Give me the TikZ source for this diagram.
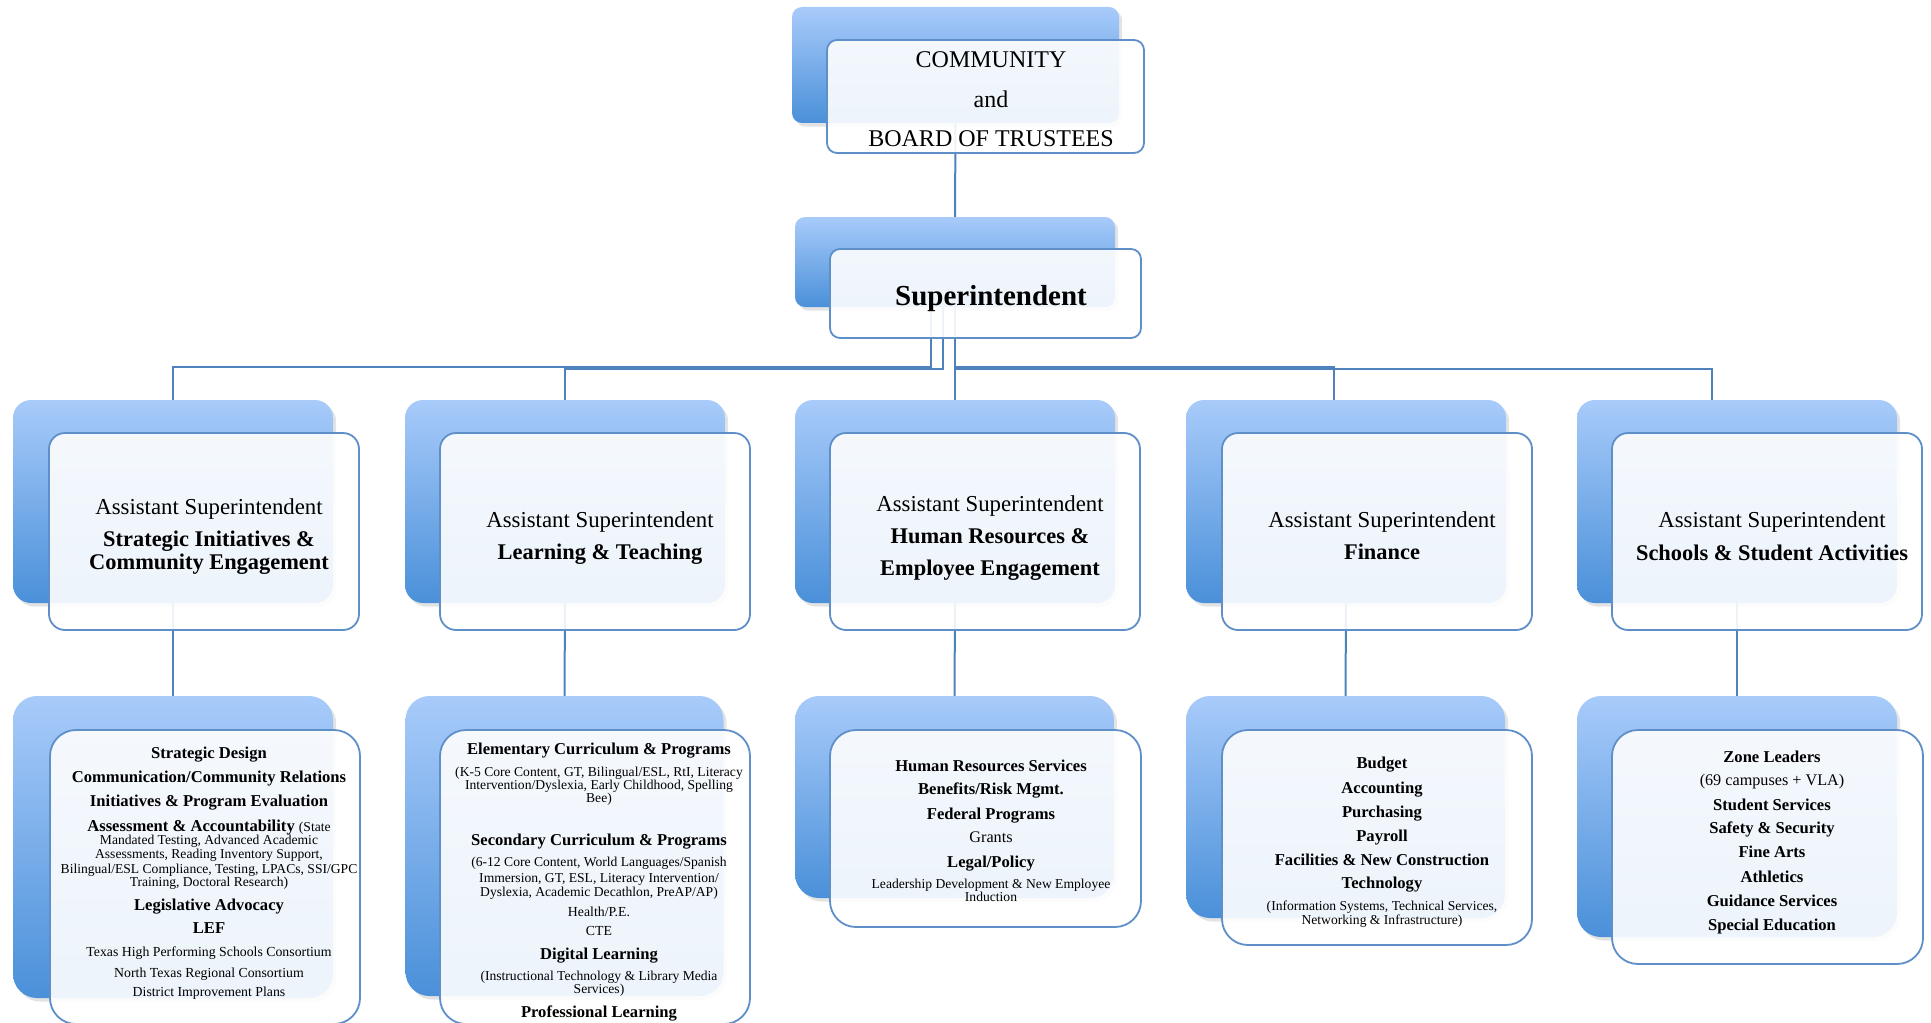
\documentclass[tikz,border=0pt]{standalone}
\usepackage{fontspec}
\setmainfont{Liberation Serif}
\usetikzlibrary{shadows,calc}
\definecolor{bTop}{RGB}{168,203,250}
\definecolor{bBot}{RGB}{74,144,217}
\definecolor{frC}{RGB}{94,143,200}
\definecolor{lnC}{RGB}{79,129,189}
\pgfdeclarelayer{bg}
\pgfsetlayers{bg,main}
\begin{document}
\begin{tikzpicture}[x=0.5pt,y=-0.5pt,
  backbox/.style={rectangle, rounded corners=#1, top color=bTop, bottom color=bBot,
    draw=none, inner sep=0pt, outer sep=0pt,
    drop shadow={shadow xshift=1.6pt, shadow yshift=-1.8pt, opacity=0.22}},
  backbox/.default=8pt,
  frontbox/.style={rectangle, rounded corners=#1, draw=frC, line width=0.9pt,
    fill=white, fill opacity=0.9, inner sep=0pt, outer sep=0pt},
  frontbox/.default=8pt,
  conn/.style={draw=lnC, line width=1pt},
  tx/.style={anchor=base, inner sep=0pt, outer sep=0pt, text=black},
  topT/.style={tx, font=\fontsize{12}{14}\selectfont, yshift=-3.6pt},
  supT/.style={tx, font=\fontsize{14.5}{17}\selectfont\bfseries, yshift=-4.3pt},
  asR/.style={tx, font=\fontsize{11.4}{13}\selectfont, yshift=-3.4pt},
  asB/.style={tx, font=\fontsize{11.2}{13}\selectfont\bfseries, yshift=-3.4pt},
  hB/.style={tx, font=\fontsize{8.3}{10}\selectfont\bfseries, yshift=-2.5pt},
  hR/.style={tx, font=\fontsize{8.1}{10}\selectfont, yshift=-2.4pt},
  sR/.style={tx, font=\fontsize{6.8}{8}\selectfont, yshift=-2pt},
  mR/.style={tx, font=\fontsize{6.9}{8}\selectfont, yshift=-2.1pt}
]
\useasboundingbox (0,0) rectangle (1931,1022);

% ---------- top ----------
\node[backbox=5pt, minimum width=163.5pt, minimum height=58pt] (topb) at (955.5,65) {};
\node[frontbox=5pt, minimum width=158.5pt, minimum height=56.5pt] (topf) at (985.5,96.5) {};
\node[topT] (t0a) at (991,60) {COMMUNITY};
\node[topT] (t0b) at (991,100) {and};
\node[topT] (t0c) at (991,139) {BOARD OF TRUSTEES};

% ---------- superintendent ----------
\node[backbox=5pt, minimum width=160pt, minimum height=45pt] (supb) at (955,262) {};
\node[frontbox=5pt, minimum width=155.5pt, minimum height=44.5pt] (supf) at (985.5,293.5) {};
\node[supT] (t00) at (991,297) {Superintendent};

% ---------- level 2 ----------
\foreach \n/\cx/\fx in {1/173/204, 2/565/595, 3/955/985, 4/1346/1377, 5/1737/1767}{
  \node[backbox=9pt, minimum width=160pt, minimum height=101.5pt] (a\n b) at (\cx,501.5) {};
  \node[frontbox=8pt, minimum width=155pt, minimum height=98.5pt] (a\n f) at (\fx,531.5) {};
}
\node[asR] (a1t1) at (209,508) {Assistant Superintendent};
\node[asB] (a1t2) at (209,540) {Strategic Initiatives \&};
\node[asB] (a1t3) at (209,563) {Community Engagement};
\node[asR] (a2t1) at (600,521) {Assistant Superintendent};
\node[asB] (a2t2) at (600,553) {Learning \& Teaching};
\node[asR] (a3t1) at (990,505) {Assistant Superintendent};
\node[asB] (a3t2) at (990,537) {Human Resources \&};
\node[asB] (a3t3) at (990,569) {Employee Engagement};
\node[asR] (a4t1) at (1382,521) {Assistant Superintendent};
\node[asB] (a4t2) at (1382,553) {Finance};
\node[asR] (a5t1) at (1772,521) {Assistant Superintendent};
\node[asB] (a5t2) at (1772,554) {Schools \& Student Activities};

% ---------- level 3 ----------
\node[backbox=12pt, minimum width=160pt, minimum height=151pt] (c1b) at (173,847) {};
\node[frontbox=13pt, minimum width=155pt, minimum height=147pt] (c1f) at (205,877) {};
\node[backbox=12pt, minimum width=159pt, minimum height=150pt] (c2b) at (564.5,846) {};
\node[frontbox=13pt, minimum width=155pt, minimum height=147pt] (c2f) at (595,877) {};
\node[backbox=12pt, minimum width=159.5pt, minimum height=101pt] (c3b) at (954.5,797) {};
\node[frontbox=13pt, minimum width=155.5pt, minimum height=98.5pt] (c3f) at (985.5,828.5) {};
\node[backbox=12pt, minimum width=159.5pt, minimum height=111pt] (c4b) at (1345.5,807) {};
\node[frontbox=13pt, minimum width=155pt, minimum height=107.5pt] (c4f) at (1377,837.5) {};
\node[backbox=12pt, minimum width=160pt, minimum height=120.5pt] (c5b) at (1737,816.5) {};
\node[frontbox=13pt, minimum width=155.5pt, minimum height=117pt] (c5f) at (1767.5,847) {};

% box 1 texts
\node[hB] (c1t01) at (209,753) {Strategic Design};
\node[hB] (c1t02) at (209,777) {Communication/Community Relations};
\node[hB] (c1t03) at (209,801) {Initiatives \& Program Evaluation};
\node[hB] (c1t04) at (209,826) {Assessment \& Accountability {\fontsize{6.8}{8}\selectfont\mdseries (State}};
\node[sR] (c1t05) at (209,840) {Mandated Testing, Advanced Academic};
\node[sR] (c1t06) at (209,854) {Assessments, Reading Inventory Support,};
\node[sR] (c1t07) at (209,869) {Bilingual/ESL Compliance, Testing, LPACs, SSI/GPC};
\node[sR] (c1t08) at (209,882) {Training, Doctoral Research)};
\node[hB] (c1t09) at (209,905) {Legislative Advocacy};
\node[hB] (c1t10) at (209,928) {LEF};
\node[mR] (c1t11) at (209,952) {Texas High Performing Schools Consortium};
\node[mR] (c1t12) at (209,973) {North Texas Regional Consortium};
\node[mR] (c1t13) at (209,992) {District Improvement Plans};

% box 2 texts
\node[hB] (c2t01) at (599,749) {Elementary Curriculum \& Programs};
\node[sR] (c2t02) at (599,772) {(K-5 Core Content, GT, Bilingual/ESL, RtI, Literacy};
\node[sR] (c2t03) at (599,785) {Intervention/Dyslexia, Early Childhood, Spelling};
\node[sR] (c2t04) at (599,798) {Bee)};
\node[hB] (c2t05) at (599,840) {Secondary Curriculum \& Programs};
\node[sR] (c2t06) at (599,862) {(6-12 Core Content, World Languages/Spanish};
\node[sR] (c2t07) at (599,878) {Immersion, GT, ESL, Literacy Intervention/};
\node[sR] (c2t08) at (599,892) {Dyslexia, Academic Decathlon, PreAP/AP)};
\node[mR] (c2t09) at (599,912) {Health/P.E.};
\node[mR] (c2t10) at (599,931) {CTE};
\node[hB] (c2t11) at (599,954) {Digital Learning};
\node[sR] (c2t12) at (599,976) {(Instructional Technology \& Library Media};
\node[sR] (c2t13) at (599,989) {Services)};
\node[hB] (c2t14) at (599,1012) {Professional Learning};

% box 3 texts
\node[hB] (c3t1) at (991,766) {Human Resources Services};
\node[hB] (c3t2) at (991,789) {Benefits/Risk Mgmt.};
\node[hB] (c3t3) at (991,814) {Federal Programs};
\node[hR] (c3t4) at (991,838) {Grants};
\node[hB] (c3t5) at (991,862) {Legal/Policy};
\node[sR] (c3t6) at (991,884) {Leadership Development \& New Employee};
\node[sR] (c3t7) at (991,897) {Induction};

% box 4 texts
\node[hB] (c4t1) at (1382,763) {Budget};
\node[hB] (c4t2) at (1382,788) {Accounting};
\node[hB] (c4t3) at (1382,812) {Purchasing};
\node[hB] (c4t4) at (1382,836) {Payroll};
\node[hB] (c4t5) at (1382,860) {Facilities \& New Construction};
\node[hB] (c4t6) at (1382,883) {Technology};
\node[sR] (c4t7) at (1382,906) {(Information Systems, Technical Services,};
\node[sR] (c4t8) at (1382,920) {Networking \& Infrastructure)};

% box 5 texts
\node[hB] (c5t1) at (1772,757) {Zone Leaders};
\node[hR] (c5t2) at (1772,781) {(69 campuses + VLA)};
\node[hB] (c5t3) at (1772,805) {Student Services};
\node[hB] (c5t4) at (1772,828) {Safety \& Security};
\node[hB] (c5t5) at (1772,852) {Fine Arts};
\node[hB] (c5t6) at (1772,877) {Athletics};
\node[hB] (c5t7) at (1772,901) {Guidance Services};
\node[hB] (c5t8) at (1772,925) {Special Education};

% ---------- connectors ----------
\begin{pgfonlayer}{bg}
\draw[conn] (topb.south) -- (supb.north);
\draw[conn] ($(supb.south)+(-24,0)$) -- ++(0,60) -| (a1b.north);
\draw[conn] ($(supb.south)+(-12,0)$) -- ++(0,61.5) -| (a2b.north);
\draw[conn] (supb.south) -- (a3b.north);
\draw[conn] (supb.south) -- ++(0,60) -| ($(a4b.north)+(-12,0)$);
\draw[conn] (supb.south) -- ++(0,61.5) -| ($(a5b.north)+(-25,0)$);
\draw[conn] (a1b.south) -- (c1b.north);
\draw[conn] (a2b.south) -- (c2b.north);
\draw[conn] (a3b.south) -- (c3b.north);
\draw[conn] (a4b.south) -- (c4b.north);
\draw[conn] (a5b.south) -- (c5b.north);
\end{pgfonlayer}
\end{tikzpicture}
\end{document}
